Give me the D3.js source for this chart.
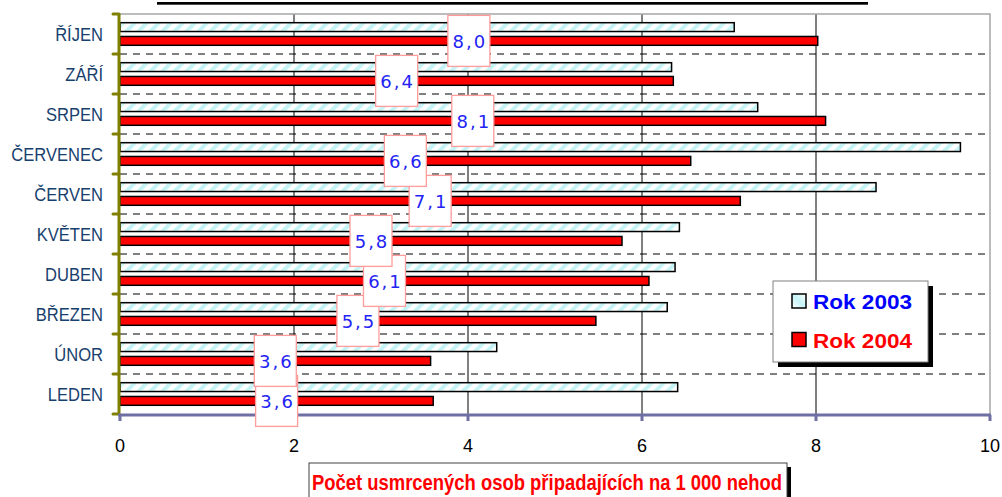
<!DOCTYPE html>
<html>
<head>
<meta charset="utf-8">
<script src="https://cdn.jsdelivr.net/npm/d3@7"></script>
<style>
  html, body { margin: 0; padding: 0; background: #fff; }
  svg { display: block; }
</style>
</head>
<body>
<div id="chart"></div>
<script>

// data
const months = ['LEDEN', 'ÚNOR', 'BŘEZEN', 'DUBEN', 'KVĚTEN', 'ČERVEN', 'ČERVENEC', 'SRPEN', 'ZÁŘÍ', 'ŘÍJEN'];
const rok2003 = [6.41, 4.33, 6.29, 6.38, 6.43, 8.69, 9.66, 7.33, 6.34, 7.06];
const rok2004 = [3.60, 3.57, 5.47, 6.08, 5.77, 7.13, 6.56, 8.11, 6.36, 8.02];
const seriesNames = ['Rok 2003', 'Rok 2004'];
const xTicks = [0, 2, 4, 6, 8, 10];
const axisTitle = 'Počet usmrcených osob připadajících na 1 000 nehod';
const chartTitle = 'Počet usmrcených osob na 1 000 nehod v jednotlivých měsících (leden – říjen)';

const fmt = d3.format('.1f');
const labelText = v => fmt(v).replace('.', ',');

//1 - dimensions
let dimensions = {
    width: 1002,
    height: 497,
    left: 120,
    right: 990,
    top: 14,
    bottom: 414,
};

//2 - canvas
const svg = d3.select('#chart').append('svg')
    .attr('width', dimensions.width)
    .attr('height', dimensions.height)
    .style('font-family', '"Liberation Sans", Arial, sans-serif');

// hatch for 2003
let defs = svg.append('defs');
let hatch = defs.append('pattern')
    .attr('id', 'hatch')
    .attr('patternUnits', 'userSpaceOnUse')
    .attr('width', 8.5)
    .attr('height', 8.5)
    .attr('patternTransform', 'rotate(45)');
hatch.append('rect').attr('width', 8.5).attr('height', 8.5).attr('fill', '#fff');
hatch.append('rect').attr('width', 4).attr('height', 8.5).attr('fill', '#c6f4f6');

let grad = defs.append('linearGradient')
    .attr('id', 'legGrad')
    .attr('x1', 0).attr('y1', 1).attr('x2', 1).attr('y2', 0);
grad.append('stop').attr('offset', '0%').attr('stop-color', '#fff');
grad.append('stop').attr('offset', '50%').attr('stop-color', '#c6f4f6');
grad.append('stop').attr('offset', '100%').attr('stop-color', '#fff');

const fills = ['url(#hatch)', '#ff0000'];

//3 - scales
let xScale = d3.scaleLinear()
    .domain([0, 10])
    .range([dimensions.left, dimensions.right]);

let yScale = d3.scaleBand()
    .domain(months.slice().reverse())
    .range([dimensions.top, dimensions.bottom])
    .paddingInner(0.435)
    .paddingOuter(0.2175);

let yInner = d3.scaleBand()
    .domain(seriesNames)
    .range([0, yScale.bandwidth()])
    .paddingInner(0.36);

let bounds = svg.append('g');

// title (cut off at the top edge, only the underline shows)
svg.append('text')
    .attr('x', 512)
    .attr('y', -4)
    .attr('text-anchor', 'middle')
    .style('font-size', '21px')
    .style('font-weight', 'bold')
    .style('fill', '#000')
    .text(chartTitle);
svg.append('rect')
    .attr('x', 157).attr('y', 2)
    .attr('width', 711).attr('height', 2.7)
    .attr('fill', '#000');

//4 - gridlines
let boundaries = months.map((m, i) => dimensions.top + i * yScale.step());
boundaries.push(dimensions.bottom);

bounds.selectAll('.hgrid')
    .data(boundaries.slice(1, -1))
    .join('line')
    .attr('x1', dimensions.left).attr('x2', dimensions.right)
    .attr('y1', d => d).attr('y2', d => d)
    .attr('stroke', '#000')
    .attr('stroke-width', 1)
    .attr('stroke-dasharray', '7,6');

bounds.selectAll('.vgrid')
    .data(xTicks.slice(1, -1))
    .join('line')
    .attr('x1', d => xScale(d)).attr('x2', d => xScale(d))
    .attr('y1', dimensions.top).attr('y2', dimensions.bottom)
    .attr('stroke', '#000')
    .attr('stroke-width', 1);

// plot border top + right
bounds.append('path')
    .attr('d', `M${dimensions.left},${dimensions.top}H${dimensions.right}V${dimensions.bottom}`)
    .attr('fill', 'none')
    .attr('stroke', '#a6a6a6')
    .attr('stroke-width', 1.5);

//5 - bars
const rows = months.map((m, i) => ({ month: m, values: [rok2003[i], rok2004[i]] }));

let groups = bounds.selectAll('.row')
    .data(rows)
    .join('g')
    .attr('transform', d => `translate(0,${yScale(d.month)})`);

groups.selectAll('rect')
    .data(d => d.values.map((v, k) => ({ v, k })))
    .join('rect')
    .attr('x', xScale(0))
    .attr('y', d => yInner(seriesNames[d.k]))
    .attr('width', d => xScale(d.v) - xScale(0))
    .attr('height', yInner.bandwidth())
    .attr('fill', d => fills[d.k])
    .attr('stroke', '#000')
    .attr('stroke-width', 1.5);

//6 - axes
// left axis (olive)
bounds.append('line')
    .attr('x1', dimensions.left - 1).attr('x2', dimensions.left - 1)
    .attr('y1', dimensions.top).attr('y2', dimensions.bottom + 1)
    .attr('stroke', '#808000')
    .attr('stroke-width', 3);
bounds.selectAll('.ytick')
    .data(boundaries)
    .join('line')
    .attr('x1', dimensions.left - 7).attr('x2', dimensions.left - 1)
    .attr('y1', d => d).attr('y2', d => d)
    .attr('stroke', '#808000')
    .attr('stroke-width', 3)
    .attr('stroke-linecap', 'round');

// bottom axis (blue-grey)
bounds.append('line')
    .attr('x1', dimensions.left - 2).attr('x2', dimensions.right + 1)
    .attr('y1', dimensions.bottom + 1).attr('y2', dimensions.bottom + 1)
    .attr('stroke', '#6f6fa3')
    .attr('stroke-width', 3);
bounds.selectAll('.xtick')
    .data(xTicks)
    .join('line')
    .attr('x1', d => xScale(d)).attr('x2', d => xScale(d))
    .attr('y1', dimensions.bottom + 1).attr('y2', dimensions.bottom + 7)
    .attr('stroke', '#6f6fa3')
    .attr('stroke-width', 3);

bounds.selectAll('.xlabel')
    .data(xTicks)
    .join('text')
    .attr('x', d => xScale(d))
    .attr('y', 452)
    .attr('text-anchor', 'middle')
    .style('font-size', '18px')
    .style('fill', '#000')
    .text(d => d);

// category labels
bounds.selectAll('.ylabel')
    .data(months)
    .join('text')
    .attr('x', 103)
    .attr('y', d => yScale(d) + yScale.bandwidth() / 2 + 7)
    .attr('text-anchor', 'end')
    .style('font-size', '18px')
    .style('fill', '#17406d')
    .text(d => d)
    .each(function () {
        let w = this.getComputedTextLength();
        d3.select(this).attr('textLength', w * 0.92).attr('lengthAdjust', 'spacingAndGlyphs');
    });

//7 - legend
let legend = svg.append('g');
legend.append('rect')
    .attr('x', 778).attr('y', 286)
    .attr('width', 155).attr('height', 81)
    .attr('fill', '#000');
legend.append('rect')
    .attr('x', 773).attr('y', 281)
    .attr('width', 155).attr('height', 81)
    .attr('fill', '#fff')
    .attr('stroke', '#808080')
    .attr('stroke-width', 1);

const legColors = ['#0000ff', '#ff0000'];
const legFills = ['url(#legGrad)', '#ff0000'];
seriesNames.forEach((name, k) => {
    let yy = 309 + k * 38.5;
    legend.append('rect')
        .attr('x', 792).attr('y', yy - 15)
        .attr('width', 14).attr('height', 14)
        .attr('fill', legFills[k])
        .attr('stroke', '#000')
        .attr('stroke-width', 1.5);
    legend.append('text')
        .attr('x', 813).attr('y', yy)
        .attr('textLength', 99)
        .attr('lengthAdjust', 'spacingAndGlyphs')
        .style('font-size', '20px')
        .style('font-weight', 'bold')
        .style('fill', legColors[k])
        .text(name);
});

//8 - axis title box
svg.append('rect')
    .attr('x', 313).attr('y', 467)
    .attr('width', 478).attr('height', 40)
    .attr('fill', '#000');
svg.append('rect')
    .attr('x', 309).attr('y', 463)
    .attr('width', 478).attr('height', 40)
    .attr('fill', '#fff')
    .attr('stroke', '#404040')
    .attr('stroke-width', 1);
svg.append('text')
    .attr('x', 312).attr('y', 490)
    .attr('textLength', 470)
    .attr('lengthAdjust', 'spacingAndGlyphs')
    .style('font-size', '22px')
    .style('font-weight', 'bold')
    .style('fill', '#ff0000')
    .text(axisTitle);

//9 - value labels for 2004
let labels = svg.append('g')
    .selectAll('g')
    .data(rows)
    .join('g')
    .attr('transform', d => {
        let cx = xScale(d.values[1] / 2);
        let cy = yScale(d.month) + yInner(seriesNames[1]) + yInner.bandwidth() / 2;
        return `translate(${cx},${cy})`;
    });

labels.append('rect')
    .attr('x', -21).attr('y', -25.5)
    .attr('width', 42).attr('height', 51)
    .attr('fill', '#fff')
    .attr('stroke', '#ff9c9c')
    .attr('stroke-width', 1.3);

labels.append('text')
    .attr('x', 1)
    .attr('y', 7)
    .attr('text-anchor', 'middle')
    .style('font-family', '"DejaVu Sans", Verdana, sans-serif')
    .style('font-size', '18px')
    .style('letter-spacing', '2px')
    .style('fill', '#2323f5')
    .text(d => labelText(d.values[1]));

</script>
</body>
</html>
